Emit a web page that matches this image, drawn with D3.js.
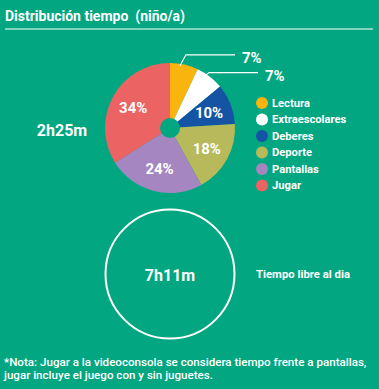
<!DOCTYPE html>
<html><head><meta charset="utf-8">
<script src="https://cdn.jsdelivr.net/npm/d3@7"></script>
<style>
html,body{margin:0;padding:0;background:#02a680;}
svg{display:block;font-family:Roboto,"Open Sans",sans-serif;}
text{white-space:pre;}
</style></head><body>
<svg id="c" width="379" height="389"></svg>
<script>
const categories = ["Lectura","Extraescolares","Deberes","Deporte","Pantallas","Jugar"];
const values = [7,7,10,18,24,34];
const colors = ["#f9b50d","#ffffff","#1553a5","#b7b95a","#a586c0","#ec6363"];
const titleText = "Distribución tiempo  (niño/a)";
const pieTotal = "2h25m";
const freeTotal = "7h11m";
const freeLabel = "Tiempo libre al dia";
const noteLines = ["*Nota: Jugar a la videoconsola se considera tiempo frente a pantallas,","jugar incluye el juego con y sin juguetes."];

const svg = d3.select("#c");
const bg = "#02a680";
svg.append("rect").attr("width",379).attr("height",389).attr("fill",bg);

svg.append("text").attr("x",5).attr("y",21).attr("fill","#fff")
  .attr("font-size",15).attr("font-weight",700).attr("textLength",180).attr("lengthAdjust","spacingAndGlyphs").text(titleText);
svg.append("line").attr("x1",5).attr("x2",373).attr("y1",29).attr("y2",29)
  .attr("stroke","#fff").attr("stroke-width",1.2);

const cx=170, cy=128, R=65;
const g = svg.append("g").attr("transform",`translate(${cx},${cy})`);
const pie = d3.pie().sort(null).value(d=>d)(values);
const arc = d3.arc().innerRadius(0).outerRadius(R);
g.selectAll("path").data(pie).join("path").attr("d",arc).attr("fill",(d,i)=>colors[i]);
g.append("circle").attr("r",10).attr("fill",bg);
const lab = d3.arc().innerRadius(42).outerRadius(42);
g.selectAll("text.pl").data(pie.filter(d=>d.data>=10)).join("text").attr("class","pl")
  .attr("transform",d=>`translate(${lab.centroid(d)})`)
  .attr("text-anchor","middle").attr("dy","0.36em").attr("fill","#fff")
  .attr("font-size",15).attr("font-weight",700).text(d=>d.data+"%");

// leaders for small slices (start on the slice near its outer edge)
const small = pie.filter(d=>d.data<10);
const leaderFrac = [0.36, 0.34];
const leaderDx = [6, 4];
const leaderRise = [11, 3];
const leaderEnd = [65, 88];
small.forEach((d,k)=>{
  const a = d.startAngle + (d.endAngle-d.startAngle)*leaderFrac[k];
  const r0 = R-2;
  const sx = r0*Math.sin(a), sy = -r0*Math.cos(a);
  const ex = sx + leaderDx[k], ey = sy - leaderRise[k];
  g.append("polyline").attr("points",`${sx},${sy} ${ex},${ey} ${leaderEnd[k]},${ey}`)
    .attr("fill","none").attr("stroke","#fff").attr("stroke-width",1.2);
  g.append("text").attr("x",leaderEnd[k]+7).attr("y",ey+3).attr("dy","0.36em")
    .attr("fill","#fff").attr("font-size",15).attr("font-weight",700).text(d.data+"%");
});

svg.append("text").attr("x",62).attr("y",130).attr("dy","0.36em").attr("text-anchor","middle")
  .attr("fill","#fff").attr("font-size",16).attr("font-weight",700).text(pieTotal);

// legend
const lg = svg.append("g");
categories.forEach((c,i)=>{
  const y = 103 + i*16.5;
  lg.append("circle").attr("cx",262).attr("cy",y).attr("r",6).attr("fill",colors[i]);
  lg.append("text").attr("x",272).attr("y",y).attr("dy","0.35em").attr("fill","#fff")
    .attr("font-size",11.2).attr("font-weight",700).text(c);
});

// free time circle
svg.append("circle").attr("cx",170).attr("cy",274).attr("r",64.5).attr("fill","none")
  .attr("stroke","#fff").attr("stroke-width",2);
svg.append("text").attr("x",170).attr("y",275).attr("dy","0.36em").attr("text-anchor","middle")
  .attr("fill","#fff").attr("font-size",16).attr("font-weight",700).text(freeTotal);
svg.append("text").attr("x",256).attr("y",274).attr("dy","0.35em")
  .attr("fill","#fff").attr("font-size",11.3).attr("font-weight",700).text(freeLabel);

noteLines.forEach((t,i)=>{
  svg.append("text").attr("x",4).attr("y",366+i*13).attr("fill","#fff")
    .attr("font-size",11.6).attr("font-weight",500).text(t);
});
</script>
</body></html>
